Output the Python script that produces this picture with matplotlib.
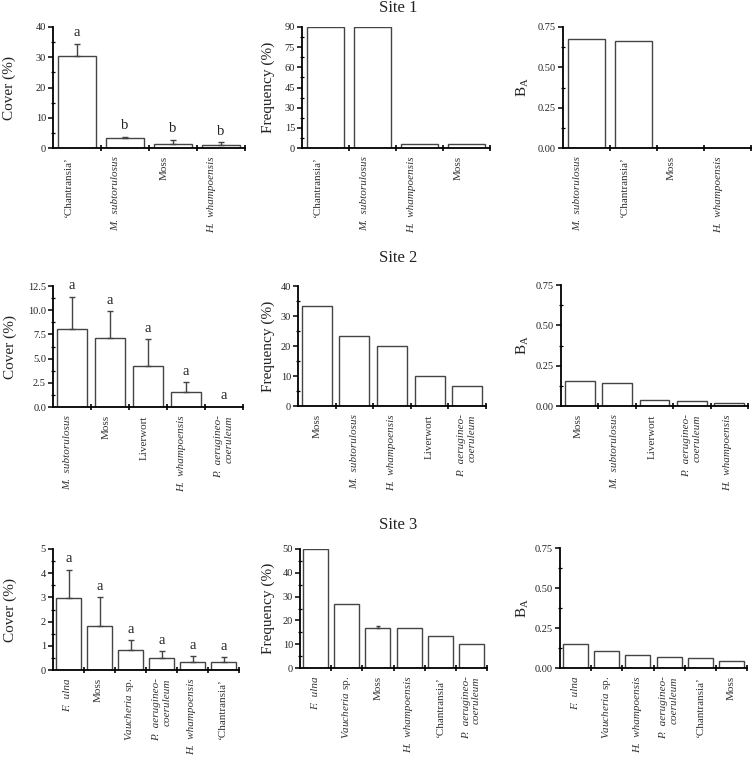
import matplotlib
matplotlib.use('Agg')
import matplotlib.pyplot as plt
from matplotlib.ticker import MultipleLocator, FormatStrFormatter, FixedLocator
import matplotlib.transforms as mtransforms

plt.rcParams['font.family'] = ['Liberation Serif', 'DejaVu Serif']
plt.rcParams['mathtext.fontset'] = 'custom'
plt.rcParams['mathtext.rm'] = 'Liberation Serif'
plt.rcParams['mathtext.it'] = 'Liberation Serif:italic'

# ---- category names ----
CHANT = '\u2018Chantransia\u2019'
MSUB = 'M.  subtorulosus'
HWH = 'H.  whampoensis'
PAER = 'P.  aerugineo-\ncoeruleum'
FULNA = 'F.  ulna'
VAUCH = r'$\mathit{Vaucheria}$ sp.'
ITALIC = {MSUB, HWH, PAER, FULNA}

# ---- Site 1 ----
s1_cover_cats = [CHANT, MSUB, 'Moss', HWH]
s1_cover = [30.3, 3.3, 1.3, 1.0]
s1_cover_err = [4.2, 0.5, 1.5, 1.0]
s1_cover_letters = ['a', 'b', 'b', 'b']
s1_freq_cats = [CHANT, MSUB, HWH, 'Moss']
s1_freq = [90, 90, 3.3, 3.3]
s1_ba_cats = [MSUB, CHANT, 'Moss', HWH]
s1_ba = [0.674, 0.666, 0.0, 0.0]

# ---- Site 2 ----
s2_cover_cats = [MSUB, 'Moss', 'Liverwort', HWH, PAER]
s2_cover = [8.1, 7.1, 4.2, 1.6, 0.05]
s2_cover_err = [3.3, 2.8, 2.8, 1.0, 0.0]
s2_cover_letters = ['a', 'a', 'a', 'a', 'a']
s2_freq_cats = ['Moss', MSUB, HWH, 'Liverwort', PAER]
s2_freq = [33.3, 23.3, 20.0, 10.0, 6.7]
s2_ba_cats = ['Moss', MSUB, 'Liverwort', PAER, HWH]
s2_ba = [0.153, 0.140, 0.035, 0.033, 0.021]

# ---- Site 3 ----
s3_cover_cats = [FULNA, 'Moss', VAUCH, PAER, HWH, CHANT]
s3_cover = [2.97, 1.82, 0.82, 0.50, 0.35, 0.33]
s3_cover_err = [1.18, 1.18, 0.40, 0.28, 0.23, 0.22]
s3_cover_letters = ['a', 'a', 'a', 'a', 'a', 'a']
s3_freq_cats = [FULNA, VAUCH, 'Moss', HWH, CHANT, PAER]
s3_freq = [50.0, 26.7, 16.7, 16.7, 13.3, 10.0]
s3_freq_err = [0, 0, 0.8, 0, 0, 0]
s3_ba_cats = [FULNA, VAUCH, HWH, PAER, CHANT, 'Moss']
s3_ba = [0.151, 0.105, 0.080, 0.069, 0.065, 0.043]

W, H = 753, 759
fig = plt.figure(figsize=(W / 100, H / 100), dpi=100)

EDGE = '#444444'
TXT = '#222222'


def make_ax(x0, x1, y0, y1):
    return fig.add_axes([x0 / W, 1 - y1 / H, (x1 - x0) / W, (y1 - y0) / H])


def panel(box, cats, vals, ylabel, ymax, major, minor, fmt, lab_off_px,
          label_dx, err=None, letters=None):
    x0, x1, y0, y1 = box
    ax = make_ax(*box)
    n = len(cats)
    xs = list(range(n))
    ax.bar(xs, vals, width=0.8, facecolor='white', edgecolor=EDGE,
           linewidth=1.0, zorder=2)
    if err is not None:
        for x, v, e in zip(xs, vals, err):
            if e > 0:
                ax.errorbar([x], [v], yerr=[[0], [e]], fmt='none',
                            ecolor=EDGE, elinewidth=1.0, capsize=2.5,
                            capthick=1.0, zorder=3)
    if letters is not None:
        for x, v, e, t in zip(xs, vals, err, letters):
            ax.annotate(t, (x, v + e), xytext=(0, 3),
                        textcoords='offset points', ha='center',
                        va='bottom', fontsize=10.5, color=TXT)
    ax.set_xlim(-0.5, n - 0.5)
    ax.set_ylim(0, ymax)
    for s in ['top', 'right']:
        ax.spines[s].set_visible(False)
    for s in ['left', 'bottom']:
        ax.spines[s].set_linewidth(1.3)
        ax.spines[s].set_color('black')
    # x ticks at the boundaries, labels at bar centres via minor ticks
    ax.xaxis.set_major_locator(FixedLocator([i + 0.5 for i in range(n)]))
    ax.xaxis.set_major_formatter(plt.NullFormatter())
    ax.tick_params(axis='x', which='major', direction='inout', length=5,
                   width=1.2, color='black')
    ax.set_xticks(xs, minor=True)
    ax.set_xticklabels(cats, minor=True, rotation=90, fontsize=8,
                       color='#333333', va='top', ha='center',
                       multialignment='right')
    ax.tick_params(axis='x', which='minor', length=0, pad=6)
    offs = mtransforms.ScaledTranslation(label_dx / 100, 0,
                                         fig.dpi_scale_trans)
    for lab in ax.xaxis.get_minorticklabels():
        txt = lab.get_text()
        if txt in ITALIC:
            lab.set_fontstyle('italic')
        if '\n' not in txt:
            lab.set_transform(lab.get_transform() + offs)
    # y ticks
    ax.yaxis.set_major_locator(MultipleLocator(major))
    ax.yaxis.set_minor_locator(MultipleLocator(minor))
    ax.yaxis.set_major_formatter(FormatStrFormatter(fmt))
    ax.tick_params(axis='y', which='major', direction='out', length=3.5,
                   width=1.1, labelsize=7.5, labelcolor=TXT, pad=1.5)
    ax.tick_params(axis='y', which='minor', direction='inout', length=3,
                   width=0.9)
    ax.set_ylabel(ylabel, fontsize=11, color=TXT, va='center')
    ax.yaxis.set_label_coords(lab_off_px / (x1 - x0), 0.5)
    return ax


BA = r'$\mathrm{B}_\mathrm{A}$'

# Row 1
panel((53, 245, 27, 148), s1_cover_cats, s1_cover, 'Cover (%)', 40, 10, 5,
      '%d', -44, -9, err=s1_cover_err, letters=s1_cover_letters)
panel((302, 490, 27, 148), s1_freq_cats, s1_freq, 'Frequency (%)', 90, 15,
      7.5, '%d', -34, -8)
panel((563, 751, 27, 148), s1_ba_cats, s1_ba, BA, 0.75, 0.25, 0.125,
      '%.2f', -40, -9)

# Row 2
panel((53, 243, 286, 407), s2_cover_cats, s2_cover, 'Cover (%)', 12.5, 2.5,
      1.25, '%.1f', -43, -4, err=s2_cover_err, letters=s2_cover_letters)
panel((298, 486, 286, 406), s2_freq_cats, s2_freq, 'Frequency (%)', 40, 10,
      5, '%d', -30, 0)
panel((561, 748, 285, 406), s2_ba_cats, s2_ba, BA, 0.75, 0.25, 0.125,
      '%.2f', -38, -2)

# Row 3
panel((53, 239, 549, 670), s3_cover_cats, s3_cover, 'Cover (%)', 5, 1, 0.5,
      '%d', -43, -1, err=s3_cover_err, letters=s3_cover_letters)
ax8 = panel((300, 487, 549, 668), s3_freq_cats, s3_freq, 'Frequency (%)', 50,
            10, 5, '%d', -32, 0)
for x, v, e in zip(range(len(s3_freq)), s3_freq, s3_freq_err):
    if e > 0:
        ax8.errorbar([x], [v], yerr=[[0], [e]], fmt='none', ecolor=EDGE,
                     elinewidth=1.0, capsize=1.5, capthick=1.0, zorder=3)
panel((560, 747, 548, 668), s3_ba_cats, s3_ba, BA, 0.75, 0.25, 0.125,
      '%.2f', -37, 0)

# Site titles
for t, y in [('Site 1', 8), ('Site 2', 258), ('Site 3', 525)]:
    fig.text(398 / W, 1 - y / H, t, ha='center', va='center', fontsize=12,
             color=TXT)

fig.savefig('out.png', dpi=100, facecolor='white')
